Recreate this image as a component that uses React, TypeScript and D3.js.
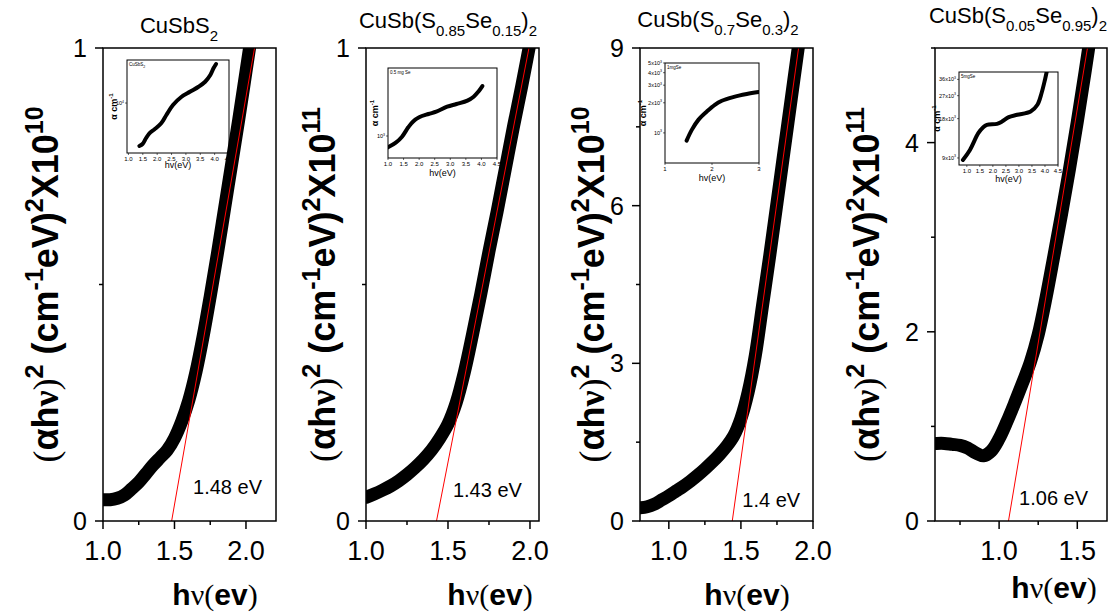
import React from "react";
import * as d3 from "d3";

const SANS = "'Liberation Sans', Arial, Helvetica, sans-serif";
const SERIF = "'Liberation Serif', 'Times New Roman', serif";

// ---- main Tauc plots: hv (eV) vs (alpha*hv)^2 in the panel's unit ----
const hv1 = [1.0, 1.05, 1.1, 1.15, 1.2, 1.25, 1.3, 1.35, 1.4, 1.45, 1.5, 1.55, 1.6, 1.65, 1.7, 1.75, 1.8, 1.85, 1.9, 1.95, 2.0, 2.05, 2.1];
const tauc1 = [0.045, 0.045, 0.048, 0.055, 0.068, 0.082, 0.1, 0.118, 0.134, 0.15, 0.175, 0.21, 0.255, 0.315, 0.39, 0.475, 0.565, 0.66, 0.755, 0.85, 0.95, 1.05, 1.15];

const hv2 = [1.0, 1.05, 1.1, 1.15, 1.2, 1.25, 1.3, 1.35, 1.4, 1.45, 1.5, 1.55, 1.6, 1.65, 1.7, 1.75, 1.8, 1.85, 1.9, 1.95, 2.0, 2.05];
const tauc2 = [0.05, 0.057, 0.065, 0.074, 0.085, 0.098, 0.113, 0.13, 0.15, 0.175, 0.205, 0.25, 0.315, 0.395, 0.48, 0.57, 0.655, 0.745, 0.835, 0.92, 1.01, 1.1];

const hv3 = [0.8, 0.85, 0.9, 0.95, 1.0, 1.05, 1.1, 1.15, 1.2, 1.25, 1.3, 1.35, 1.4, 1.45, 1.5, 1.55, 1.6, 1.65, 1.7, 1.75, 1.8, 1.85, 1.9, 1.95];
const tauc3 = [0.25, 0.27, 0.32, 0.4, 0.48, 0.57, 0.66, 0.76, 0.87, 0.99, 1.12, 1.26, 1.42, 1.62, 1.95, 2.45, 3.15, 4.1, 5.05, 6.05, 7.05, 8.05, 9.05, 10.0];

const hv4 = [0.6, 0.65, 0.7, 0.75, 0.8, 0.85, 0.9, 0.95, 1.0, 1.05, 1.1, 1.15, 1.2, 1.25, 1.3, 1.35, 1.4, 1.45, 1.5, 1.55, 1.6];
const tauc4 = [0.82, 0.82, 0.81, 0.8, 0.77, 0.72, 0.69, 0.74, 0.87, 1.05, 1.25, 1.46, 1.68, 1.97, 2.36, 2.8, 3.25, 3.72, 4.22, 4.75, 5.3];

// linear fits: x-intercept and the point where the fit reaches the top
const fitEg = [1.48, 1.43, 1.44, 1.06];
const fitTopHv = [2.06, 1.994, 1.9, 1.565];
const gapLabels = ["1.48 eV", "1.43 eV", "1.4 eV", "1.06 eV"];
const yExponents = ["10", "11", "10", "11"];

// axes
const xDomains = [[1.0, 2.21], [1.0, 2.055], [0.8, 2.0], [0.59, 1.69]];
const yDomains = [[0, 1], [0, 1], [0, 9], [0, 5]];
const xMajor = [[1.0, 1.5, 2.0], [1.0, 1.5, 2.0], [1.0, 1.5, 2.0], [1.0, 1.5]];
const xMinor = [[1.25, 1.75], [1.25, 1.75], [1.25, 1.75], [0.75, 1.25]];
const yMajor = [[0, 1], [0, 1], [0, 3, 6, 9], [0, 2, 4]];
const yMinor = [[0.5], [0.5], [1.5, 4.5, 7.5], [1, 3, 5]];

// ---- insets: hv (eV) vs alpha (cm^-1), log scale ----
const inHv1 = [1.38, 1.49, 1.61, 1.73, 1.91, 2.14, 2.32, 2.55, 2.85, 3.14, 3.44, 3.67, 3.85, 3.96, 4.05];
const inA1 = [2506, 2673, 3216, 3776, 4290, 5200, 6800, 9380, 12250, 14390, 16900, 19860, 24640, 30600, 35150];

const inHv2 = [1.0, 1.25, 1.45, 1.65, 1.8, 2.0, 2.3, 2.55, 2.9, 3.2, 3.55, 3.75, 3.9, 4.03];
const inA2 = [706, 815, 980, 1306, 1552, 1775, 1965, 2110, 2460, 2670, 2960, 3340, 3900, 4640];

const inHv3 = [1.46, 1.57, 1.71, 1.89, 2.06, 2.21, 2.45, 2.74, 2.99];
const inA3 = [837, 1072, 1350, 1636, 1910, 2095, 2280, 2445, 2560];

const inHv4 = [0.85, 1.12, 1.44, 1.63, 1.77, 2.16, 2.35, 2.61, 2.93, 3.45, 3.71, 3.87, 4.0, 4.07];
const inA4 = [8690, 10370, 13930, 15500, 16140, 16430, 17100, 18500, 19270, 20420, 23000, 28300, 35800, 41500];

const inXDomains = [[0.95, 4.5], [1.0, 4.5], [1, 3], [0.7, 4.5]];
const inYDomains = [[2000, 40000], [509, 8070], [500, 5000], [7950, 41000]];
const inXTicks = [
  [1.0, 1.5, 2.0, 2.5, 3.0, 3.5, 4.0, 4.5],
  [1.0, 1.5, 2.0, 2.5, 3.0, 3.5, 4.0, 4.5],
  [1, 2, 3],
  [1.0, 1.5, 2.0, 2.5, 3.0, 3.5, 4.0, 4.5],
];
const inYTicks = [[10000], [1000], [1000, 2000, 3000, 4000, 5000], [9000, 18000, 27000, 36000]];
const inYTickLabels = [
  [["10", "4"]],
  [["10", "3"]],
  [["10", "3"], ["2x10", "3"], ["3x10", "3"], ["4x10", "3"], ["5x10", "3"]],
  [["9x10", "3"], ["18x10", "3"], ["27x10", "3"], ["36x10", "3"]],
];
const inTitles = [["CuSbS", "2"], ["0.5 mg Se", ""], ["1mgSe", ""], ["5mgSe", ""]];

// panel titles: [text, isSubscript]
const titles: [string, boolean][][] = [
  [["CuSbS", false], ["2", true]],
  [["CuSb(S", false], ["0.85", true], ["Se", false], ["0.15", true], [")", false], ["2", true]],
  [["CuSb(S", false], ["0.7", true], ["Se", false], ["0.3", true], [")", false], ["2", true]],
  [["CuSb(S", false], ["0.05", true], ["Se", false], ["0.95", true], [")", false], ["2", true]],
];

const mainHv = [hv1, hv2, hv3, hv4];
const mainTauc = [tauc1, tauc2, tauc3, tauc4];
const inHv = [inHv1, inHv2, inHv3, inHv4];
const inA = [inA1, inA2, inA3, inA4];

// page layout (pixels)
const layout = [
  { left: 103, right: 276, top: 48, bottom: 521, titleX: 179, titleY: 33, yLabelX: 58, xLabelX: 215, xLabelY: 605, gapX: 1.63, gapY: 0.057, inset: { left: 127, right: 229, top: 60, bottom: 153, xl: 168 } },
  { left: 366, right: 539, top: 48, bottom: 521, titleX: 448, titleY: 28, yLabelX: 335, xLabelX: 490, xLabelY: 605, gapX: 1.53, gapY: 0.05, inset: { left: 388, right: 497, top: 68, bottom: 158, xl: 176 } },
  { left: 640, right: 813, top: 48, bottom: 521, titleX: 718, titleY: 27, yLabelX: 604, xLabelX: 747, xLabelY: 605, gapX: 1.51, gapY: 0.27, inset: { left: 665, right: 759, top: 63, bottom: 163, xl: 181 } },
  { left: 935, right: 1107, top: 48, bottom: 521, titleX: 1018, titleY: 23, yLabelX: 879, xLabelX: 1054, xLabelY: 598, gapX: 1.128, gapY: 0.17, inset: { left: 959, right: 1058, top: 72, bottom: 165, xl: 182 } },
];

function Inset({ i }: { i: number }) {
  const b = layout[i].inset;
  const x = d3.scaleLinear().domain(inXDomains[i]).range([b.left, b.right]);
  const y = d3.scaleLog().domain(inYDomains[i]).range([b.bottom, b.top]);
  const line = d3
    .line<number>()
    .x((_, k) => x(inHv[i][k]))
    .y((d) => y(d))
    .curve(d3.curveCatmullRom);
  const cy = (b.top + b.bottom) / 2;
  const decimals = inXDomains[i][1] - inXDomains[i][0] > 2.5;
  return (
    <g>
      <rect x={b.left} y={b.top} width={b.right - b.left} height={b.bottom - b.top} fill="white" stroke="#000" strokeWidth={1} />
      <clipPath id={`inclip${i}`}>
        <rect x={b.left} y={b.top} width={b.right - b.left} height={b.bottom - b.top} />
      </clipPath>
      <path d={line(inA[i]) || ""} fill="none" stroke="#000" strokeWidth={4} strokeLinecap="round" strokeLinejoin="round" clipPath={`url(#inclip${i})`} />
      {inXTicks[i].map((t) => (
        <g key={t}>
          <line x1={x(t)} x2={x(t)} y1={b.bottom} y2={b.bottom + 2} stroke="#000" strokeWidth={0.6} />
          <text x={x(t)} y={b.bottom + 8} fontSize={6} textAnchor="middle" fontFamily={SANS}>
            {decimals ? d3.format(".1f")(t) : d3.format("d")(t)}
          </text>
        </g>
      ))}
      {inYTicks[i].map((t, k) => (
        <g key={t}>
          <line x1={b.left - 2} x2={b.left} y1={y(t)} y2={y(t)} stroke="#000" strokeWidth={0.6} />
          <text x={b.left - 3} y={y(t) + 2} fontSize={5.5} textAnchor="end" fontFamily={SANS}>
            {inYTickLabels[i][k][0]}
            <tspan fontSize={3.5} dy={-2.5}>{inYTickLabels[i][k][1]}</tspan>
          </text>
        </g>
      ))}
      <text x={b.left + 2} y={b.top + 6} fontSize={4.5} fontFamily={SANS}>
        {inTitles[i][0]}
        {inTitles[i][1] && <tspan fontSize={3.5} dy={1.5}>{inTitles[i][1]}</tspan>}
      </text>
      <text x={(b.left + b.right) / 2} y={b.xl} fontSize={9} textAnchor="middle" fontFamily={SANS}>
        hv(eV)
      </text>
      <text transform={`translate(${b.left - (i === 2 || i === 3 ? 19 : 10)},${cy}) rotate(-90)`} fontSize={9} fontWeight="bold" textAnchor="middle" fontFamily={SANS}>
        α cm<tspan fontSize={6} dy={-4}>-1</tspan>
      </text>
    </g>
  );
}

function Panel({ i }: { i: number }) {
  const L = layout[i];
  const x = d3.scaleLinear().domain(xDomains[i]).range([L.left, L.right]);
  const y = d3.scaleLinear().domain(yDomains[i]).range([L.bottom, L.top]);
  const line = d3
    .line<number>()
    .x((_, k) => x(mainHv[i][k]))
    .y((d) => y(d))
    .curve(d3.curveCatmullRom);
  const yMax = yDomains[i][1];
  const cy = (L.top + L.bottom) / 2;
  return (
    <g>
      <clipPath id={`clip${i}`}>
        <rect x={L.left} y={L.top} width={L.right - L.left} height={L.bottom - L.top} />
      </clipPath>
      <Inset i={i} />
      <path d={line(mainTauc[i]) || ""} fill="none" stroke="#000" strokeWidth={13} strokeLinejoin="round" strokeLinecap="round" clipPath={`url(#clip${i})`} />
      <line x1={x(fitEg[i])} y1={y(0)} x2={x(fitTopHv[i])} y2={y(yMax)} stroke="#ff0000" strokeWidth={1} />
      <text x={x(L.gapX)} y={y(L.gapY)} fontSize={20} fontFamily={SANS}>
        {gapLabels[i]}
      </text>
      <rect x={L.left} y={L.top} width={L.right - L.left} height={L.bottom - L.top} fill="none" stroke="#000" strokeWidth={1.5} />
      {xMajor[i].map((t) => (
        <g key={t}>
          <line x1={x(t)} x2={x(t)} y1={L.bottom} y2={L.bottom + 8} stroke="#000" strokeWidth={1.5} />
          <text x={x(t)} y={560} fontSize={27} textAnchor="middle" fontFamily={SANS}>
            {d3.format(".1f")(t)}
          </text>
        </g>
      ))}
      {xMinor[i].map((t) => (
        <line key={t} x1={x(t)} x2={x(t)} y1={L.bottom} y2={L.bottom + 4} stroke="#000" strokeWidth={1.5} />
      ))}
      {yMajor[i].map((t) => (
        <g key={t}>
          <line x1={L.left - 8} x2={L.left} y1={y(t)} y2={y(t)} stroke="#000" strokeWidth={1.5} />
          <text x={L.left - 16} y={y(t) + 9} fontSize={25} textAnchor="end" fontFamily={SANS}>
            {d3.format("d")(t)}
          </text>
        </g>
      ))}
      {yMinor[i].map((t) => (
        <line key={t} x1={L.left - 4} x2={L.left} y1={y(t)} y2={y(t)} stroke="#000" strokeWidth={1.5} />
      ))}
      <text x={L.titleX} y={L.titleY} fontSize={22} textAnchor="middle" fontFamily={SANS}>
        {titles[i].map(([s, sub], k) => {
          const prevSub = k > 0 && titles[i][k - 1][1];
          const dy = sub && !prevSub ? 8 : !sub && prevSub ? -8 : 0;
          return (
            <tspan key={k} fontSize={sub ? 15 : 22} dy={dy}>
              {s}
            </tspan>
          );
        })}
      </text>
      <text x={L.xLabelX} y={L.xLabelY} fontSize={30} textAnchor="middle" fontFamily={SANS}>
        <tspan fontWeight="bold">h</tspan>
        <tspan fontFamily={SERIF}>ν(</tspan>
        <tspan fontWeight="bold">ev</tspan>
        <tspan fontFamily={SERIF}>)</tspan>
      </text>
      <text transform={`translate(${L.yLabelX},${cy}) rotate(-90)`} fontSize={36} fontWeight="bold" textAnchor="middle" fontFamily={SANS}>
        <tspan fontFamily={SERIF} fontWeight="normal">(</tspan>
        <tspan>αh</tspan>
        <tspan fontFamily={SERIF}>ν</tspan>
        <tspan fontFamily={SERIF} fontWeight="normal">)</tspan>
        <tspan fontSize={25} dy={-15}>2</tspan>
        <tspan dy={15}>{" (cm"}</tspan>
        <tspan fontSize={25} dy={-15}>-1</tspan>
        <tspan dy={15}>eV)</tspan>
        <tspan fontSize={25} dy={-15}>2</tspan>
        <tspan dy={15}>X10</tspan>
        <tspan fontSize={25} dy={-15}>{yExponents[i]}</tspan>
      </text>
    </g>
  );
}

export default function App() {
  return (
    <svg width={1117} height={615} style={{ position: "absolute", left: 0, top: 0, background: "white" }}>
      <rect width={1117} height={615} fill="white" />
      {layout.map((_, i) => (
        <Panel key={i} i={i} />
      ))}
    </svg>
  );
}
